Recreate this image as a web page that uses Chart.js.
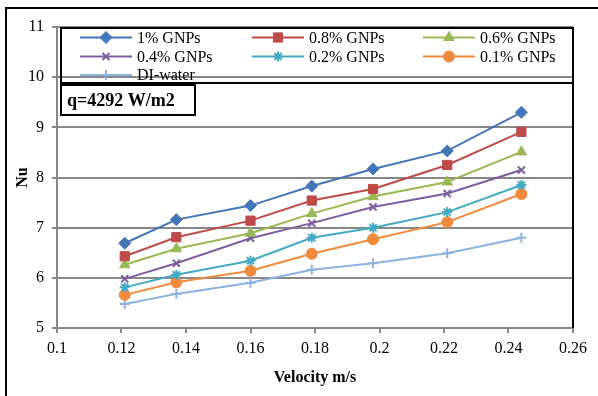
<!DOCTYPE html>
<html>
<head>
<meta charset="utf-8">
<script src="https://cdn.jsdelivr.net/npm/chart.js@4.4.1/dist/chart.umd.min.js"></script>
<style>
  html, body { margin: 0; padding: 0; background: #fff; }
  #wrap { width: 598px; height: 396px; }
</style>
</head>
<body>
<div id="wrap"><canvas id="nuChart" width="598" height="396"></canvas></div>
<script>
// Nusselt number vs velocity, q=4292 W/m2
const velocity = [0.121, 0.137, 0.160, 0.179, 0.198, 0.221, 0.244];
const gnp100 = [6.69, 7.16, 7.44, 7.83, 8.17, 8.53, 9.30];
const gnp080 = [6.43, 6.81, 7.14, 7.54, 7.77, 8.25, 8.91];
const gnp060 = [6.26, 6.58, 6.89, 7.28, 7.62, 7.91, 8.51];
const gnp040 = [5.98, 6.29, 6.79, 7.09, 7.41, 7.68, 8.15];
const gnp020 = [5.81, 6.06, 6.34, 6.80, 7.00, 7.31, 7.85];
const gnp010 = [5.66, 5.91, 6.14, 6.48, 6.77, 7.11, 7.67];
const diWater = [5.48, 5.68, 5.90, 6.16, 6.29, 6.49, 6.80];

const seriesNames = ['1% GNPs', '0.8% GNPs', '0.6% GNPs', '0.4% GNPs', '0.2% GNPs', '0.1% GNPs', 'DI-water'];
const seriesValues = [gnp100, gnp080, gnp060, gnp040, gnp020, gnp010, diWater];
const seriesColors = ['#4575b9', '#be4b48', '#98b954', '#7d5fa0', '#46a9c4', '#f08a3c', '#8eb2df'];
const markerStyles = ['rectRot', 'rect', 'triangle', 'crossRot', 'star', 'circle', 'cross'];
const markerSizes = [6, 6.5, 6, 5, 5, 5.5, 5];

const serif = '"Liberation Serif", "Times New Roman", serif';
const gridGray = '#878787';

const datasets = seriesNames.map((name, i) => ({
    label: name,
    data: velocity.map((v, j) => ({ x: v, y: seriesValues[i][j] })),
    borderColor: seriesColors[i],
    backgroundColor: seriesColors[i],
    pointBackgroundColor: seriesColors[i],
    pointBorderColor: seriesColors[i],
    pointBorderWidth: (markerStyles[i] === 'crossRot' || markerStyles[i] === 'star' || markerStyles[i] === 'cross') ? 2 : 1,
    pointStyle: markerStyles[i],
    pointRadius: markerSizes[i],
    borderWidth: 2,
    tension: 0
}));

// frame, legend box and the heat flux label sit on top of the plot
const overlay = {
    id: 'overlay',
    beforeDraw(chart) {
        const c = chart.ctx;
        c.save();
        c.fillStyle = '#fff';
        c.fillRect(0, 0, chart.width, chart.height);
        c.restore();
    },
    afterDraw(chart) {
        const c = chart.ctx;
        const area = chart.chartArea;
        c.save();

        // outer frame
        c.strokeStyle = '#000';
        c.lineWidth = 2;
        c.beginPath();
        c.moveTo(6, chart.height);
        c.lineTo(6, 8);
        c.lineTo(chart.width, 8);
        c.stroke();

        // right edge of plot
        c.beginPath();
        c.moveTo(area.right, area.top);
        c.lineTo(area.right, area.bottom);
        c.stroke();

        // legend entries
        const cols = [80, 252, 423];
        const rows = [37.5, 56.5, 75];
        chart.data.datasets.forEach((ds, i) => {
            const x = cols[i % 3];
            const y = rows[Math.floor(i / 3)];
            c.strokeStyle = ds.borderColor;
            c.lineWidth = 2;
            c.beginPath();
            c.moveTo(x, y);
            c.lineTo(x + 52, y);
            c.stroke();
            c.fillStyle = ds.pointBackgroundColor;
            c.strokeStyle = ds.pointBorderColor;
            c.lineWidth = ds.pointBorderWidth;
            Chart.helpers.drawPoint(c, {
                pointStyle: ds.pointStyle,
                radius: ds.pointRadius,
                rotation: 0,
                borderWidth: ds.pointBorderWidth
            }, x + 26, y);
            c.fillStyle = '#000';
            c.font = '16px ' + serif;
            c.textAlign = 'left';
            c.textBaseline = 'middle';
            c.fillText(ds.label, x + 57, y + 1);
        });

        // legend box
        c.strokeStyle = '#000';
        c.lineWidth = 2;
        c.strokeRect(61, 28, 512, 55);

        // heat flux label
        c.fillStyle = '#fff';
        c.fillRect(61, 85, 134, 30);
        c.strokeRect(61, 85, 134, 30);
        c.fillStyle = '#000';
        c.font = 'bold 18px ' + serif;
        c.textBaseline = 'middle';
        c.fillText('q=4292 W/m2', 67, 101);

        c.restore();
    }
};

new Chart(document.getElementById('nuChart'), {
    type: 'line',
    data: { datasets: datasets },
    options: {
        responsive: false,
        animation: false,
        devicePixelRatio: 1,
        layout: { padding: { left: 8, top: 27, right: 25, bottom: 0 } },
        plugins: {
            legend: { display: false },
            tooltip: { enabled: false }
        },
        scales: {
            x: {
                type: 'linear',
                min: 0.1,
                max: 0.26,
                afterFit: s => { s.height = 68; },
                ticks: {
                    stepSize: 0.02,
                    padding: 6,
                    color: '#000',
                    font: { family: serif, size: 16 },
                    callback: v => String(+v.toFixed(2))
                },
                grid: { drawOnChartArea: false, color: gridGray, lineWidth: 2, tickLength: 5 },
                border: { color: gridGray, width: 2 },
                title: {
                    display: true,
                    text: 'Velocity m/s',
                    color: '#000',
                    font: { family: serif, size: 16, weight: 'bold' },
                    padding: { top: 0, bottom: 9 }
                }
            },
            y: {
                min: 5,
                max: 11,
                afterFit: s => { s.width = 49; },
                ticks: {
                    stepSize: 1,
                    padding: 8,
                    color: '#000',
                    font: { family: serif, size: 16 }
                },
                grid: { color: gridGray, lineWidth: 2, tickLength: 5 },
                border: { color: gridGray, width: 2 },
                title: {
                    display: true,
                    text: 'Nu',
                    color: '#000',
                    font: { family: serif, size: 16, weight: 'bold' },
                    padding: { top: 5, bottom: 0 }
                }
            }
        }
    },
    plugins: [overlay]
});
</script>
</body>
</html>
